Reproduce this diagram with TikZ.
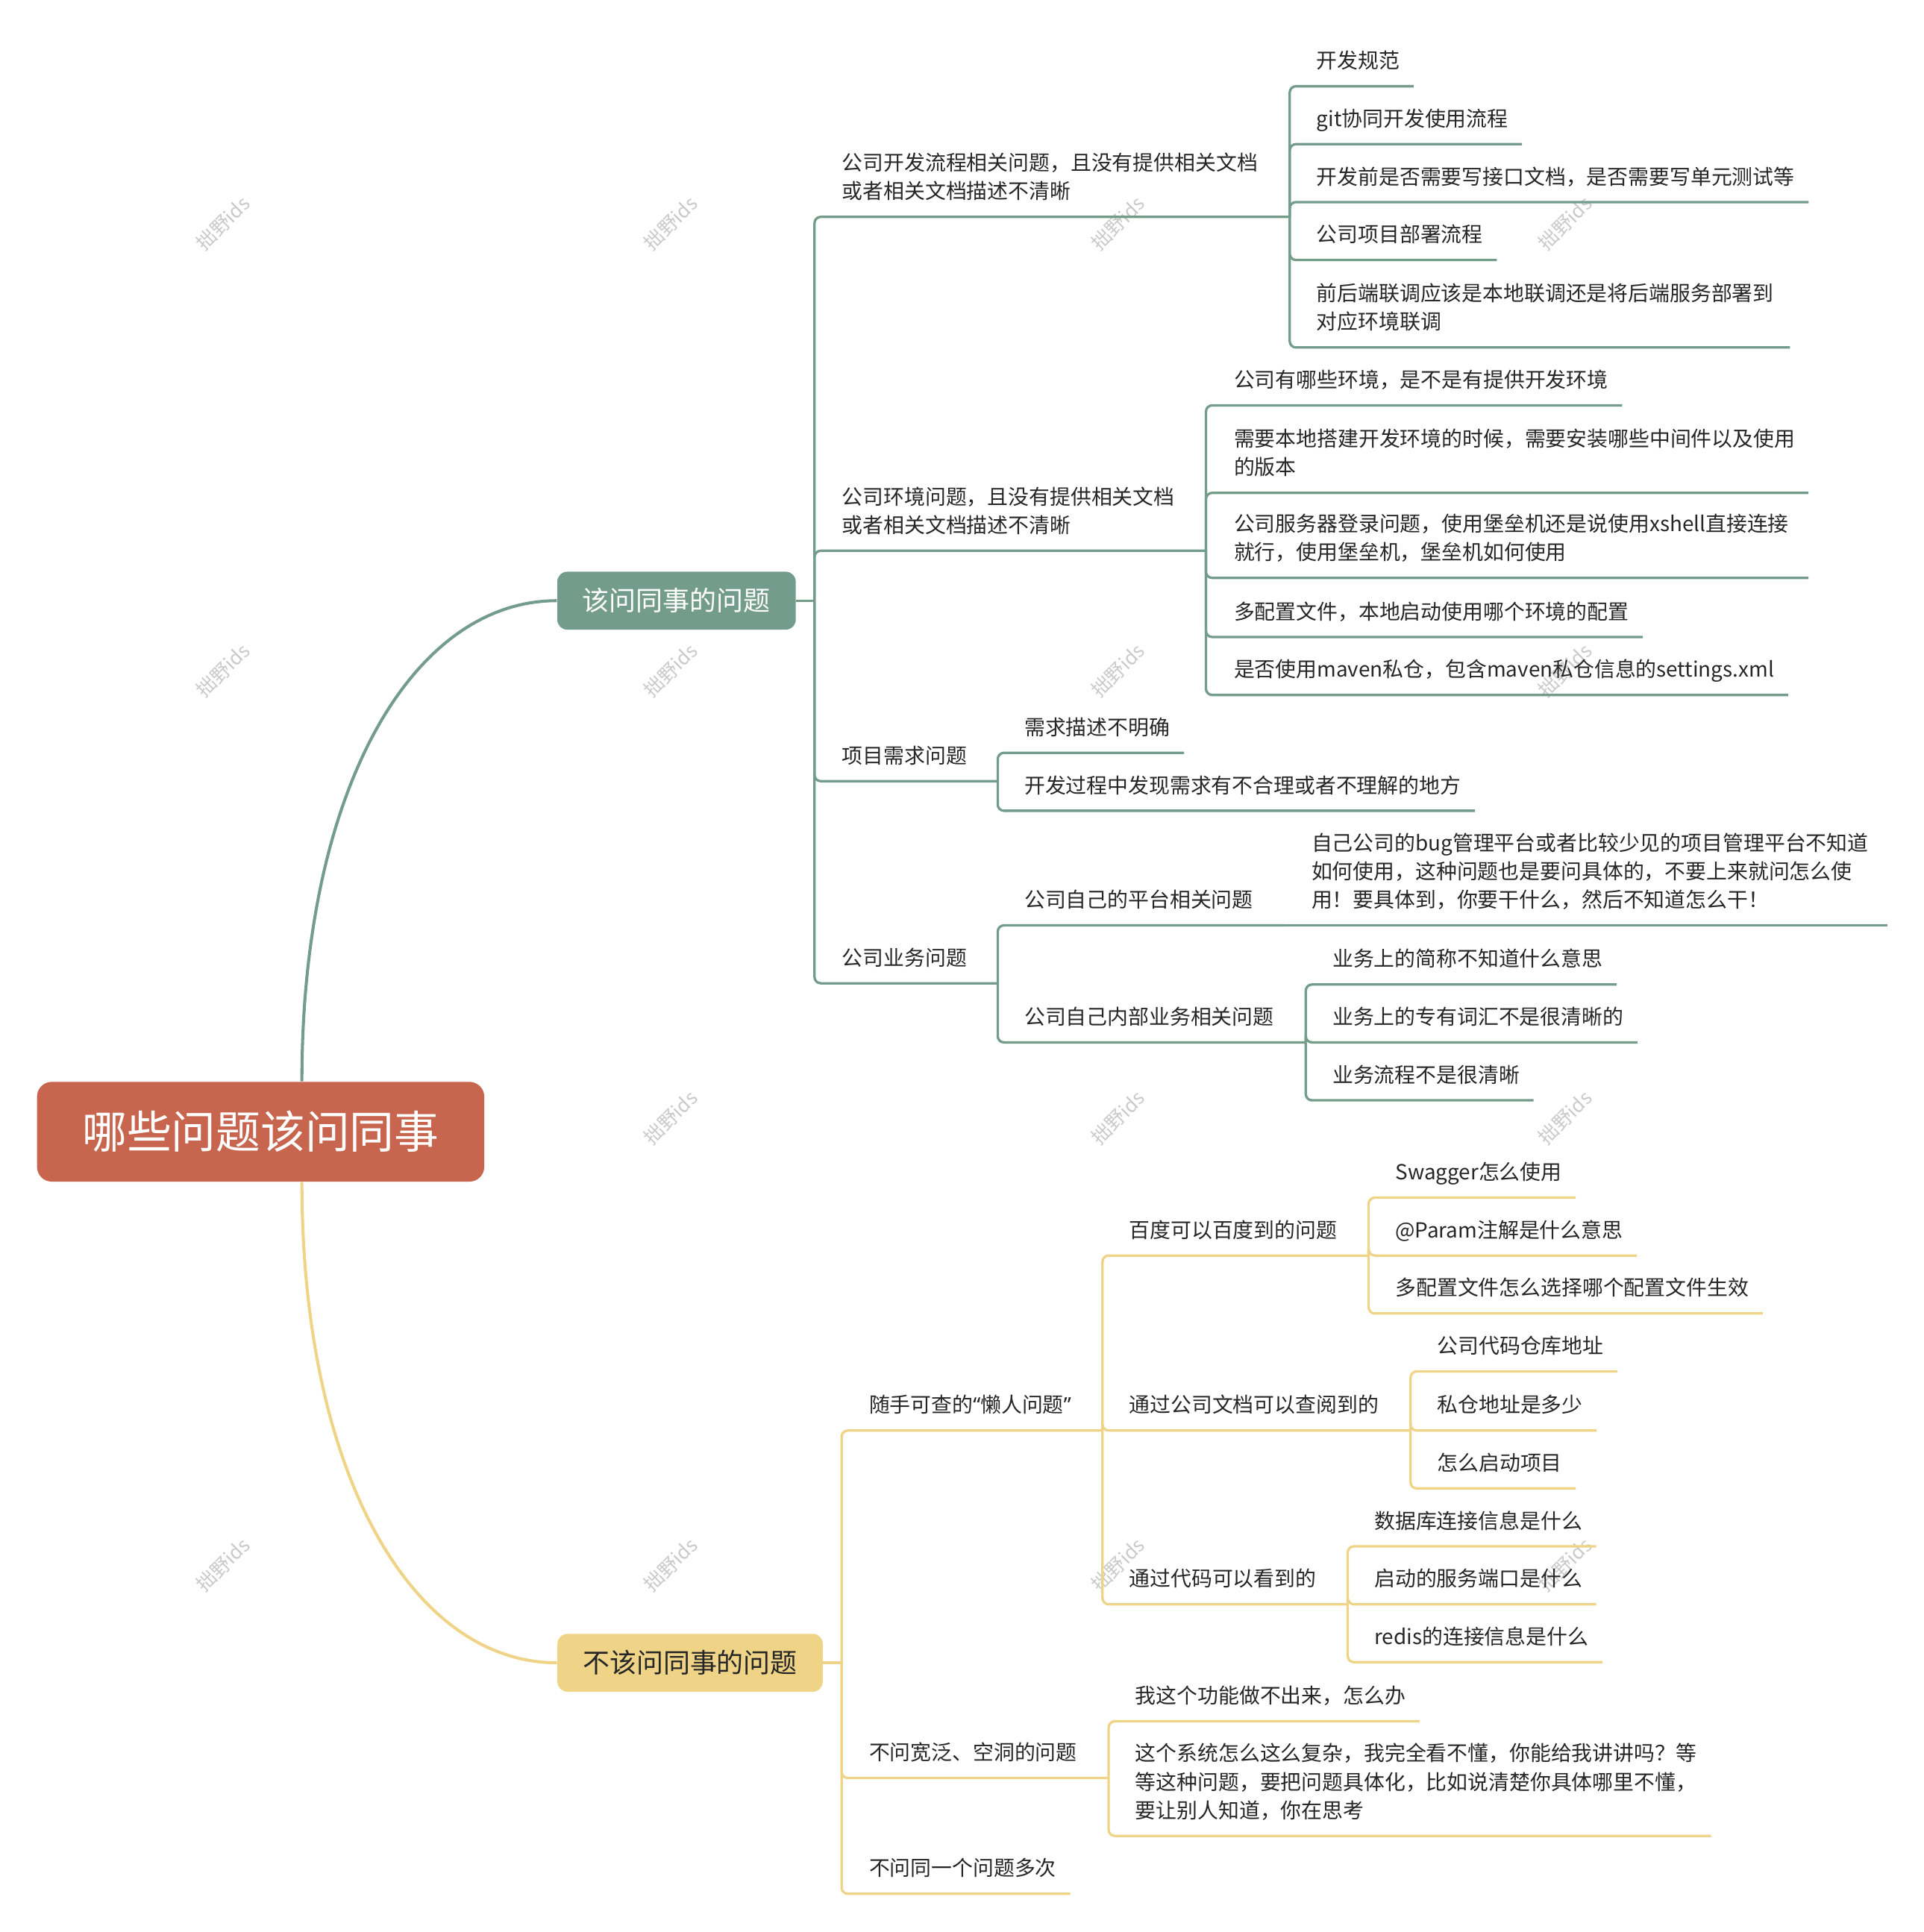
\documentclass[tikz,border=0pt]{standalone}
\usepackage{fontspec}
\setmainfont{Noto Sans CJK SC}
\newfontfamily\quotefont{Noto Sans}
\usepackage{tikz}
\usetikzlibrary{positioning}

\definecolor{grn}{HTML}{749C8C}
\definecolor{ylw}{HTML}{EFD487}
\definecolor{rootred}{HTML}{C8654F}
\definecolor{txt}{HTML}{262626}
\definecolor{wmgray}{HTML}{CACACA}

\begin{document}
\begin{tikzpicture}[
		x=0.02cm, y=-0.02cm,
		every node/.style={font=\fontsize{9.6pt}{13.2pt}\selectfont, text=txt},
		rootbox/.style={
			rectangle,
			rounded corners=0.24cm,
			fill=rootred,
			text=white,
			minimum width=7.26cm,
			minimum height=1.62cm,
			font=\fontsize{20.6pt}{24pt}\selectfont
		},
		branchbox/.style={
			rectangle,
			rounded corners=0.16cm,
			minimum height=0.94cm,
			inner xsep=0.41cm,
			font=\fontsize{12.4pt}{15pt}\selectfont
		},
		topic/.style={
			anchor=south west,
			inner xsep=0.22cm,
			inner ysep=0pt,
			align=left,
			execute at end node={\rule[-0.282cm]{0pt}{0.282cm}}
		},
		wmark/.style={
			rotate=45,
			text=wmgray,
			font=\fontsize{9pt}{9pt}\selectfont
		},
		gline/.style={draw=grn, line width=1.13pt, rounded corners=0.1cm},
		yline/.style={draw=ylw, line width=1.13pt, rounded corners=0.1cm},
		gcurve/.style={draw=grn, line width=1.4pt},
		ycurve/.style={draw=ylw, line width=1.4pt}
		]
		
		\useasboundingbox (0,0) rectangle (1561,1568);
		
		% Watermarks
		\foreach \wx/\wy in {181/181,544/181,907/181,1270/181,
			181/544,544/544,907/544,1270/544,
			544/907,907/907,1270/907,
			181/1270,544/1270,907/1270,1270/1270}
		\node[wmark] (wm-\wx-\wy) at (\wx,\wy) {拙野ids};
		
		% Nodes
		\node[rootbox] (root) at (211.5,918.5) {哪些问题该问同事};
		
		\node[branchbox, fill=grn, text=white] (ask) at (549,487.5) {该问同事的问题};
		\node[branchbox, fill=ylw] (noask) at (560,1349.5) {不该问同事的问题};
		
		\coordinate (askfork) at (661,487.5);
		\coordinate (noaskfork) at (683,1349.5);
		
		% --- 该问同事的问题
		\node[topic, text width=7.04cm] (flow) at (672,176) {公司开发流程相关问题，且没有提供相关文档\\或者相关文档描述不清晰};
		\node[topic] (spec) at (1057,70) {开发规范};
		\node[topic] (git) at (1057,117) {git协同开发使用流程};
		\node[topic] (apidoc) at (1057,164) {开发前是否需要写接口文档，是否需要写单元测试等};
		\node[topic] (deploy) at (1057,211) {公司项目部署流程};
		\node[topic, text width=7.46cm] (joint) at (1057,282) {前后端联调应该是本地联调还是将后端服务部署到\\对应环境联调};
		
		\node[topic, text width=5.68cm] (env) at (672,447) {公司环境问题，且没有提供相关文档\\或者相关文档描述不清晰};
		\node[topic] (envlist) at (990,329) {公司有哪些环境，是不是有提供开发环境};
		\node[topic, text width=9.1cm] (local) at (990,400) {需要本地搭建开发环境的时候，需要安装哪些中间件以及使用\\的版本};
		\node[topic, text width=9.1cm] (login) at (990,469) {公司服务器登录问题，使用堡垒机还是说使用xshell直接连接\\就行，使用堡垒机，堡垒机如何使用};
		\node[topic] (profile) at (990,517) {多配置文件，本地启动使用哪个环境的配置};
		\node[topic] (maven) at (990,564) {是否使用maven私仓，包含maven私仓信息的settings.xml};
		
		\node[topic, text width=2.3cm] (req) at (672,634) {项目需求问题};
		\node[topic] (unclear) at (820,611) {需求描述不明确};
		\node[topic] (unreason) at (820,658) {开发过程中发现需求有不合理或者不理解的地方};
		
		\node[topic, text width=2.3cm] (biz) at (672,798) {公司业务问题};
		\node[topic, text width=4cm] (plat) at (820,751) {公司自己的平台相关问题};
		\node[topic, text width=9.12cm] (bug) at (1053,751) {自己公司的bug管理平台或者比较少见的项目管理平台不知道\\如何使用，这种问题也是要问具体的，不要上来就问怎么使\\用！要具体到，你要干什么，然后不知道怎么干！};
		\node[topic, text width=4.34cm] (inner) at (820,846) {公司自己内部业务相关问题};
		\node[topic] (abbr) at (1070,799) {业务上的简称不知道什么意思};
		\node[topic] (term) at (1070,846) {业务上的专有词汇不是很清晰的};
		\node[topic] (proc) at (1070,893) {业务流程不是很清晰};
		
		% --- 不该问同事的问题
		\node[topic, text width=3.56cm] (lazy) at (694,1161) {随手可查的{\quotefont “}懒人问题{\quotefont ”}};
		\node[topic, text width=3.66cm] (baidu) at (905,1019) {百度可以百度到的问题};
		\node[topic] (swagger) at (1121,972) {Swagger怎么使用};
		\node[topic] (param) at (1121,1019) {@Param注解是什么意思};
		\node[topic] (multi) at (1121,1066) {多配置文件怎么选择哪个配置文件生效};
		\node[topic, text width=4.34cm] (doc) at (905,1161) {通过公司文档可以查阅到的};
		\node[topic] (repo) at (1155,1113) {公司代码仓库地址};
		\node[topic] (priv) at (1155,1161) {私仓地址是多少};
		\node[topic] (boot) at (1155,1208) {怎么启动项目};
		\node[topic, text width=3.32cm] (code) at (905,1302) {通过代码可以看到的};
		\node[topic] (db) at (1104,1255) {数据库连接信息是什么};
		\node[topic] (port) at (1104,1302) {启动的服务端口是什么};
		\node[topic] (redis) at (1104,1349) {redis的连接信息是什么};
		
		\node[topic, text width=3.66cm] (broad) at (694,1443) {不问宽泛、空洞的问题};
		\node[topic] (cant) at (910,1397) {我这个功能做不出来，怎么办};
		\node[topic, text width=9.12cm] (complex) at (910,1490) {这个系统怎么这么复杂，我完全看不懂，你能给我讲讲吗？等\\等这种问题，要把问题具体化，比如说清楚你具体哪里不懂，\\要让别人知道，你在思考};
		
		\node[topic] (again) at (694,1537) {不问同一个问题多次};
		
		% Connectors from the root
		\draw[gcurve] ([xshift=0.67cm]root.north) .. controls +(0,-238) and +(-117,0) .. (ask.west);
		\draw[ycurve] ([xshift=0.67cm]root.south) .. controls +(0,238) and +(-117,0) .. (noask.west);
		
		% Green branch
		\draw[gline] (ask.east) -- (askfork);
		\foreach \n in {flow,env,req,biz}
		\draw[gline] (askfork) |- (\n.south east);
		\foreach \n in {spec,git,apidoc,deploy,joint}
		\draw[gline] (flow.south east) |- (\n.south east);
		\foreach \n in {envlist,local,login,profile,maven}
		\draw[gline] (env.south east) |- (\n.south east);
		\foreach \n in {unclear,unreason}
		\draw[gline] (req.south east) |- (\n.south east);
		\foreach \n in {plat,inner}
		\draw[gline] (biz.south east) |- (\n.south east);
		\draw[gline] (plat.south east) -- (bug.south east);
		\foreach \n in {abbr,term,proc}
		\draw[gline] (inner.south east) |- (\n.south east);
		
		% Yellow branch
		\draw[yline] (noask.east) -- (noaskfork);
		\foreach \n in {lazy,broad,again}
		\draw[yline] (noaskfork) |- (\n.south east);
		\foreach \n in {baidu,doc,code}
		\draw[yline] (lazy.south east) |- (\n.south east);
		\foreach \n in {swagger,param,multi}
		\draw[yline] (baidu.south east) |- (\n.south east);
		\foreach \n in {repo,priv,boot}
		\draw[yline] (doc.south east) |- (\n.south east);
		\foreach \n in {db,port,redis}
		\draw[yline] (code.south east) |- (\n.south east);
		\foreach \n in {cant,complex}
		\draw[yline] (broad.south east) |- (\n.south east);
	\end{tikzpicture}
\end{document}
